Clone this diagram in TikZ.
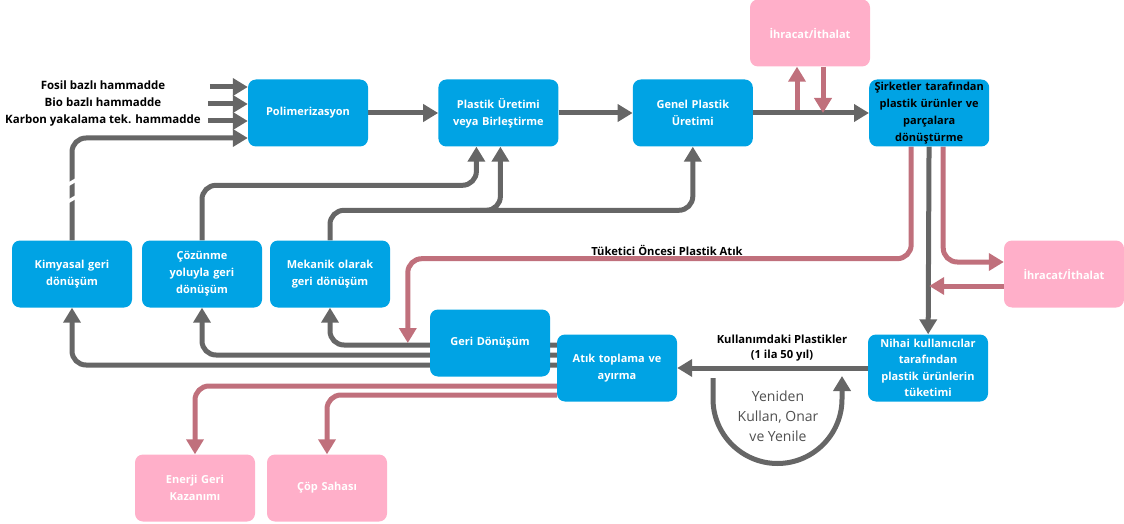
\documentclass[tikz,border=0pt]{standalone}
\usepackage{fontspec}
\setmainfont{Open Sans}
\usetikzlibrary{arrows.meta,positioning,backgrounds}
\definecolor{boxblue}{HTML}{00A3E4}
\definecolor{boxpink}{HTML}{FFAFC9}
\definecolor{linepink}{HTML}{C0707C}
\definecolor{linegray}{HTML}{666666}
\definecolor{softtext}{HTML}{505050}

\begin{document}
\begin{tikzpicture}[x=1pt,y=-1pt,
 node distance=70pt,
 box/.style={fill=boxblue,rounded corners=8pt,minimum width=120pt,minimum height=67pt,
 text width=118pt,inner sep=1pt,align=center,text=white,font=\bfseries\fontsize{11}{17}\selectfont},
 pbox/.style={box,fill=boxpink},
 lbl/.style={align=center,font=\bfseries\fontsize{11.2}{15}\selectfont},
 garr/.style={-{Triangle[length=15pt,width=17pt]},line width=5pt,draw=linegray,rounded corners=14pt},
 parr/.style={garr,draw=linepink},
 cut/.style={draw=white,line width=3.5pt}]
\useasboundingbox (0,0) rectangle (1124,524);
% boxes
\node[box] (poli) at (308,113) {Polimerizasyon};
\node[box,right=of poli] (uretim) {Plastik Üretimi\\veya Birleştirme};
\node[box,right=74pt of uretim] (genel) {Genel Plastik\\Üretimi};
\node[box,text=black,right=116pt of genel] (sirket) {Şirketler tarafından\\plastik ürünler ve\\parçalara\\dönüştürme};
\node[pbox] (ihr1) at (810,33) {İhracat/İthalat};
\node[box] (kimya) at (72,274) {Kimyasal geri\\dönüşüm};
\node[box] (cozun) at (202,274) {Çözünme\\yoluyla geri\\dönüşüm};
\node[box] (meka) at (330,274) {Mekanik olarak\\geri dönüşüm};
\node[box] (geri) at (490,343) {Geri Dönüşüm};
\node[box] (atik) at (617,368) {Atık toplama ve\\ayırma};
\node[box,font=\bfseries\fontsize{11}{16.3}\selectfont] (nihai) at (928,368) {Nihai kullanıcılar\\tarafından\\plastik ürünlerin\\tüketimi};
\node[pbox] (ihr2) at (1064,274) {İhracat/İthalat};
\node[pbox] (enerji) at (195,488) {Enerji Geri\\Kazanımı};
\node[pbox] (cop) at (327,488) {Çöp Sahası};
% labels
\node[lbl,font=\bfseries\fontsize{11.5}{17}\selectfont] (hamm) at (103,104) {Fosil bazlı hammadde\\Bio bazlı hammadde\\Karbon yakalama tek. hammadde};
\node[lbl] (tuket) at (667,250) {Tüketici Öncesi Plastik Atık};
\node[lbl] (kull) at (782,348) {Kullanımdaki Plastikler\\(1 ila 50 yıl)};
\node[align=center,text=softtext,font=\fontsize{14}{20}\selectfont] (yen) at (778,416) {Yeniden\\Kullan, Onar\\ve Yenile};
\coordinate (ya) at (713,378); \coordinate (yb) at (842,376);

\begin{scope}[on background layer]
% main chain
\draw[garr] (poli)--(uretim);\draw[garr] (uretim)--(genel);\draw[garr] (genel)--(sirket);
\draw[garr] ([shift={(-38pt,26pt)}]poli.west)--([yshift=26pt]poli.west);
\draw[garr] ([shift={(-40pt,9pt)}]poli.west)--([yshift=9pt]poli.west);
\draw[garr] ([shift={(-40pt,-8pt)}]poli.west)--([yshift=-8pt]poli.west);
% recycling back to production
\draw[garr] (kimya.north)|-([yshift=-25pt]poli.west);
\draw[cut] ([shift={(-7pt,54pt)}]kimya.north)--++(14pt,8pt);
\draw[cut] ([shift={(-7pt,37pt)}]kimya.north)--++(14pt,8pt);
\draw[garr] (cozun.north)--++(0,55pt)-|([xshift=-22pt]uretim.south);
\draw[garr] (meka.north)--++(0,30pt) coordinate (mj) -|(genel.south);
\draw[garr] ([xshift=140pt]mj)-|([xshift=2pt]uretim.south);
% waste collection outputs
\draw[garr] ([yshift=23pt]atik.west)-|(meka.south);
\draw[garr] ([yshift=13pt]atik.west)-|(cozun.south);
\draw[garr] ([yshift=3pt]atik.west)-|(kimya.south);
\draw[parr] ([yshift=-18pt]atik.west)-|(enerji.north);
\draw[parr] ([yshift=-27pt]atik.west)-|(cop.north);
% use phase
\draw[garr] (nihai)--(atik);
\draw[garr,sharp corners] (ya)--(713,399) .. controls (713,434.6) and (742.1,463.5) .. (777.5,463.5)
 .. controls (812.9,463.5) and (842,434.6) .. (842,399)--(yb);
% conversion outputs
\draw[garr] (sirket)--(nihai);
\draw[parr] ([xshift=-18pt]sirket.south)--++(0,-112pt)-|([xshift=-22pt]geri.west);
\draw[parr] ([xshift=14pt]sirket.south)|-([yshift=12pt]ihr2.west);
\draw[parr] ([yshift=-12pt]ihr2.west)--([yshift=-12pt]ihr2.west-|sirket.south);
% trade
\draw[parr] ([shift={(-13pt,2.5pt)}]ihr1.south|-genel.east)--([xshift=-13pt]ihr1.south);
\draw[parr] ([xshift=13pt]ihr1.south)--([xshift=13pt]ihr1.south|-genel.east);
\end{scope}
\end{tikzpicture}
\end{document}
